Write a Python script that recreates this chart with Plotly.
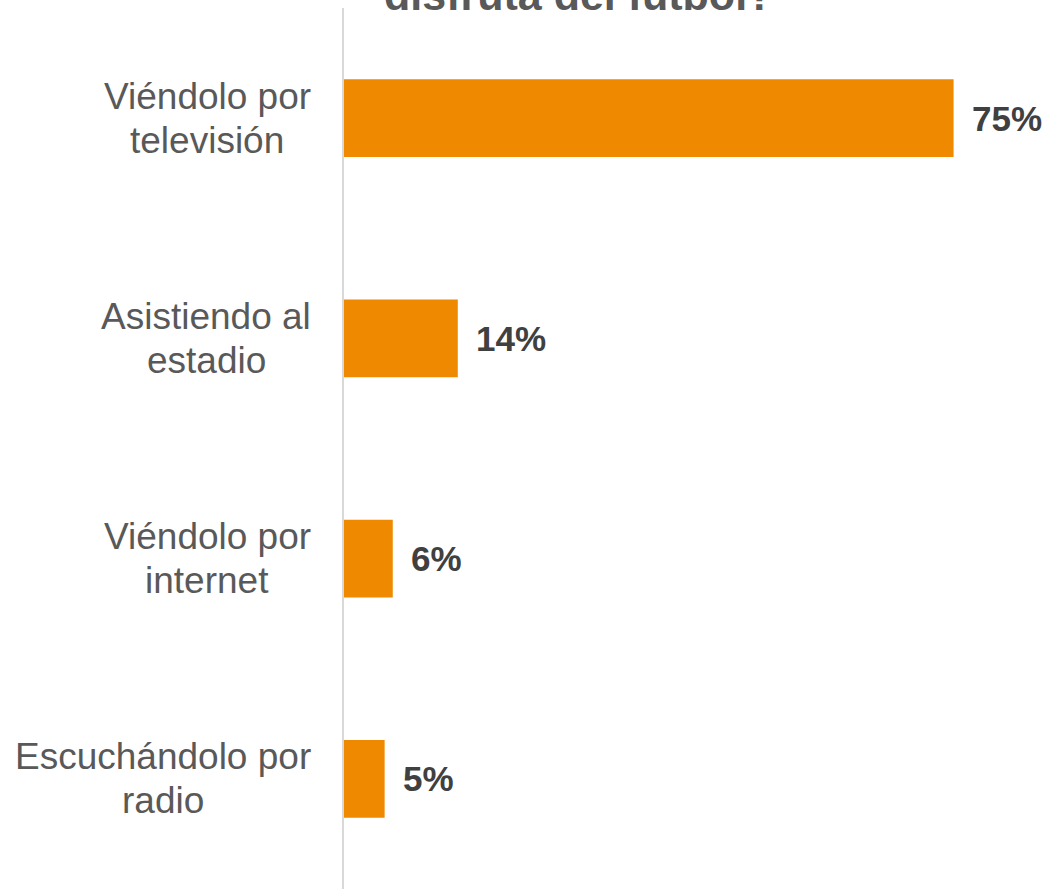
import plotly.graph_objects as go

categories = ["Viéndolo por<br>televisión", "Asistiendo al<br>estadio", "Viéndolo por<br>internet", "Escuchándolo por<br>radio"]
values = [75, 14, 6, 5]
labels = ["75%", "14%", "6%", "5%"]
title_text = "disfruta del fútbol?"

FONT = "Liberation Sans, Arial, sans-serif"
LABEL_SIZE = 37
LINE_GAP = 44
LABEL_RIGHT = -33  # px offset of label block right edge from the axis

# Arial / Liberation Sans advance widths (per 1000 em), used to centre label lines
ADV = {"V": 667, "i": 222, "é": 556, "n": 556, "d": 556, "o": 556, "l": 222, " ": 278,
       "p": 556, "r": 333, "t": 278, "e": 556, "v": 500, "s": 500, "ó": 556, "A": 667,
       "a": 556, "E": 667, "c": 500, "u": 556, "h": 556, "á": 556}


def text_w(s):
    return sum(ADV.get(ch, 556) for ch in s) * LABEL_SIZE / 1000.0


fig = go.Figure()
fig.add_trace(go.Bar(
    x=values, y=categories, orientation="h",
    marker=dict(color="#EF8A00", line=dict(width=0)),
    width=0.354, hoverinfo="skip",
))

# value labels
for v, c, t in zip(values, categories, labels):
    fig.add_annotation(x=v, y=c, xref="x", yref="y", text="<b>%s</b>" % t,
                       showarrow=False, xanchor="left", yanchor="middle", xshift=16,
                       font=dict(family=FONT, size=35, color="#404040"))

# category labels: centred lines, tighter line spacing
for c in categories:
    lines = c.split("<br>")
    n = len(lines)
    wmax = max(text_w(ln) for ln in lines)
    for i, ln in enumerate(lines):
        fig.add_annotation(x=0, y=c, xref="paper", yref="y", text=ln,
                           showarrow=False, xanchor="center", yanchor="middle",
                           yshift=(n - 1) / 2 * LINE_GAP - i * LINE_GAP,
                           xshift=LABEL_RIGHT - wmax / 2,
                           font=dict(family=FONT, size=LABEL_SIZE, color="#595959"))

fig.add_annotation(x=0.3355, y=1, xref="paper", yref="paper", text="<b>%s</b>" % title_text,
                   showarrow=False, xanchor="center", yanchor="bottom", yshift=-13,
                   font=dict(family=FONT, size=43, color="#595959"))

fig.update_layout(
    width=1048, height=889,
    margin=dict(l=344, r=5, t=8, b=0),
    paper_bgcolor="white", plot_bgcolor="white",
    showlegend=False,
    xaxis=dict(range=[0, 86], showgrid=False, zeroline=False, showticklabels=False, showline=False),
    yaxis=dict(autorange="reversed", showgrid=False, zeroline=False, showline=True,
               linecolor="#D9D9D9", linewidth=2, ticks="", showticklabels=False),
)

fig.write_html("out.html", config={"displayModeBar": False},
               post_script="document.body.style.margin='0';")
